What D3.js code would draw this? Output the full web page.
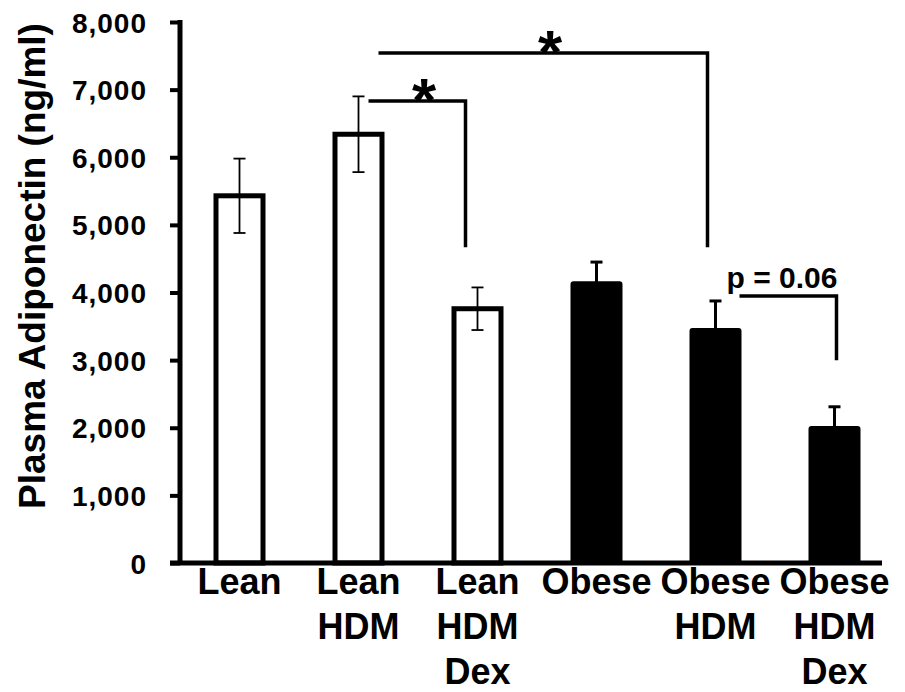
<!DOCTYPE html>
<html>
<head>
<meta charset="utf-8">
<script src="https://cdn.jsdelivr.net/npm/d3@7"></script>
<style>
  body { margin: 0; background: #fff; }
  text { font-family: 'Liberation Sans', Arial, sans-serif; font-weight: bold; fill: #000; }
</style>
</head>
<body>
<div id="chart"></div>
<script>
// groups, one line of label text per entry
var categories = ['Lean', 'Lean HDM', 'Lean HDM Dex', 'Obese', 'Obese HDM', 'Obese HDM Dex'];
var labelLines = [['Lean'], ['Lean', 'HDM'], ['Lean', 'HDM', 'Dex'], ['Obese'], ['Obese', 'HDM'], ['Obese', 'HDM', 'Dex']];
var means = [5430, 6340, 3760, 4150, 3460, 2010];
var errors = [550, 560, 315, 300, 415, 300];
var filled = [false, false, false, true, true, true];
var yTicks = [0, 1000, 2000, 3000, 4000, 5000, 6000, 7000, 8000];

// significance brackets: from group, to group, bar level, where the drop ends, label
var brackets = [
  { from: 'Lean HDM', to: 'Lean HDM Dex', level: 6830, drop: 4670, label: '*' },
  { from: 'Lean HDM', to: 'Obese HDM', level: 7540, drop: 4670, label: '*' },
  { from: 'Obese HDM', to: 'Obese HDM Dex', level: 3950, drop: 3000, label: 'p = 0.06' }
];
// small horizontal nudges (px) for the bracket ends
var bracketNudge = [[10, -12], [20, -8], [24, 2]];

var svgWidth = 905;
var svgHeight = 692;

var svg = d3.select('#chart')
  .append('svg')
  .attr('width', svgWidth)
  .attr('height', svgHeight);

svg.append('rect')
  .attr('width', svgWidth)
  .attr('height', svgHeight)
  .attr('fill', '#fff');

var x = d3.scaleBand()
  .domain(categories)
  .range([180, 894])
  .paddingInner(0.563)
  .paddingOuter(0.2815);

var y = d3.scaleLinear()
  .domain([0, 8000])
  .range([563, 22]);

function cx(name) { return x(name) + x.bandwidth() / 2; }

// bars
svg.selectAll('.bar')
  .data(categories)
  .enter()
  .append('rect')
  .attr('class', 'bar')
  .attr('x', function(d, i) { var sw = filled[i] ? 2 : 5; return x(d) + sw / 2; })
  .attr('width', function(d, i) { var sw = filled[i] ? 2 : 5; return x.bandwidth() - sw; })
  .attr('y', function(d, i) { return y(means[i]); })
  .attr('height', function(d, i) { return y(0) - y(means[i]); })
  .attr('fill', function(d, i) { return filled[i] ? '#000' : '#fff'; })
  .attr('stroke', '#000')
  .attr('stroke-width', function(d, i) { return filled[i] ? 2 : 5; })
  .attr('rx', function(d, i) { return filled[i] ? 2 : 0; });

// error bars
var capHalf = 6;
var err = svg.selectAll('.err')
  .data(categories)
  .enter()
  .append('g')
  .attr('class', 'err')
  .attr('stroke', '#000')
  .attr('stroke-width', function(d, i) { return filled[i] ? 3 : 1.8; });

err.append('line')
  .attr('x1', function(d) { return cx(d); })
  .attr('x2', function(d) { return cx(d); })
  .attr('y1', function(d, i) { return y(means[i] + errors[i]); })
  .attr('y2', function(d, i) { return y(means[i] - errors[i]); });

err.append('line')
  .attr('x1', function(d) { return cx(d) - capHalf; })
  .attr('x2', function(d) { return cx(d) + capHalf; })
  .attr('y1', function(d, i) { return y(means[i] + errors[i]); })
  .attr('y2', function(d, i) { return y(means[i] + errors[i]); });

err.append('line')
  .attr('x1', function(d) { return cx(d) - capHalf; })
  .attr('x2', function(d) { return cx(d) + capHalf; })
  .attr('y1', function(d, i) { return y(means[i] - errors[i]); })
  .attr('y2', function(d, i) { return y(means[i] - errors[i]); });

// y axis
var yAxis = d3.axisLeft(y)
  .tickValues(yTicks)
  .tickSize(10)
  .tickPadding(23)
  .tickFormat(d3.format(','));

var gy = svg.append('g')
  .attr('transform', 'translate(180,0)')
  .call(yAxis);

gy.select('.domain').remove();
gy.selectAll('.tick line').attr('stroke', '#000').attr('stroke-width', 4);
gy.selectAll('.tick text')
  .attr('fill', '#000')
  .style('font-size', '28px')
  .style('letter-spacing', '1px')
  .attr('dy', '0.36em');

gy.append('line')
  .attr('x1', 0).attr('x2', 0)
  .attr('y1', y(8000) - 2).attr('y2', y(0))
  .attr('stroke', '#000')
  .attr('stroke-width', 5);

// x axis base line
svg.append('line')
  .attr('x1', 170)
  .attr('x2', 882)
  .attr('y1', y(0))
  .attr('y2', y(0))
  .attr('stroke', '#000')
  .attr('stroke-width', 5);

// category labels
var lab = svg.selectAll('.xlab')
  .data(categories)
  .enter()
  .append('text')
  .attr('class', 'xlab')
  .attr('text-anchor', 'middle')
  .style('font-size', '36px');

lab.selectAll('tspan')
  .data(function(d, i) { return labelLines[i].map(function(t) { return { t: t, c: d }; }); })
  .enter()
  .append('tspan')
  .attr('x', function(d) { return cx(d.c); })
  .attr('y', function(d, j) { return 594 + j * 45; })
  .text(function(d) { return d.t; });

// y title
svg.append('text')
  .attr('transform', 'translate(45,266) rotate(-90)')
  .attr('text-anchor', 'middle')
  .style('font-size', '37px')
  .text('Plasma Adiponectin (ng/ml)');

// significance brackets
brackets.forEach(function(b, i) {
  var x1 = cx(b.from) + bracketNudge[i][0];
  var x2 = cx(b.to) + bracketNudge[i][1];
  svg.append('path')
    .attr('d', 'M' + x1 + ',' + y(b.level) + 'H' + x2 + 'V' + y(b.drop))
    .attr('fill', 'none')
    .attr('stroke', '#000')
    .attr('stroke-width', 3.5);

  var isStar = b.label === '*';
  svg.append('text')
    .attr('x', (x1 + x2) / 2 + (isStar ? 7 : -6))
    .attr('y', y(b.level) + (isStar ? 20 : -8))
    .attr('text-anchor', 'middle')
    .style('font-size', isStar ? '62px' : '30px')
    .text(b.label);
});
</script>
</body>
</html>
